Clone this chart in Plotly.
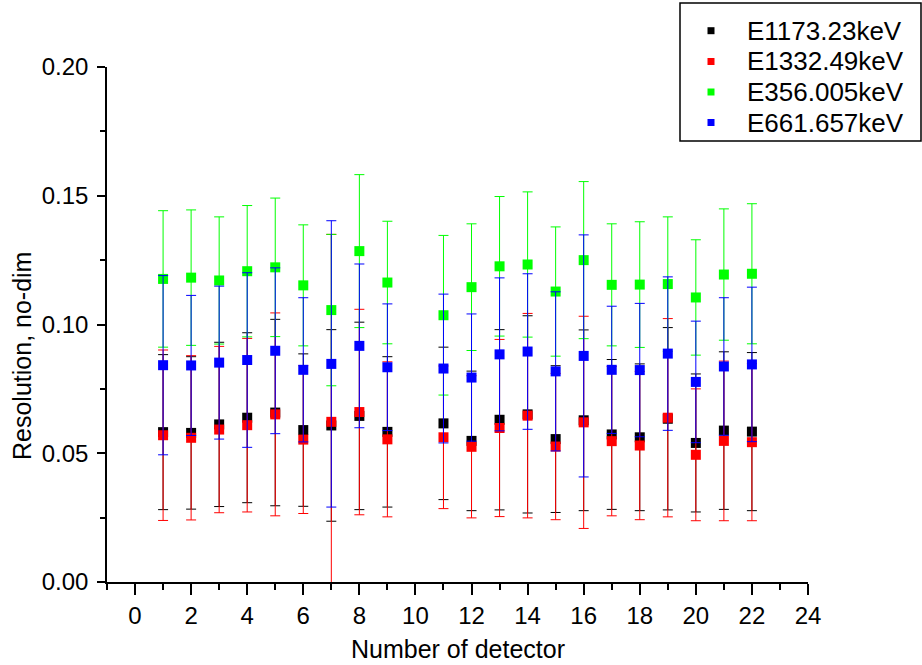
import plotly.graph_objects as go

detectors = [1, 2, 3, 4, 5, 6, 7, 8, 9, 11, 12, 13, 14, 15, 16, 17, 18, 19, 20, 21, 22]

e1173_val = [0.0582, 0.0579, 0.0612, 0.0638, 0.0658, 0.0590, 0.0608, 0.0645, 0.0583, 0.0616, 0.0548,
             0.0630, 0.0651, 0.0555, 0.0628, 0.0573, 0.0562, 0.0634, 0.0540, 0.0588, 0.0584]
e1173_err = [0.0301, 0.0296, 0.0319, 0.0330, 0.0362, 0.0296, 0.0372, 0.0364, 0.0292, 0.0296, 0.0271,
             0.0350, 0.0383, 0.0285, 0.0351, 0.0291, 0.0285, 0.0354, 0.0268, 0.0306, 0.0307]

e1332_val = [0.0570, 0.0560, 0.0592, 0.0609, 0.0651, 0.0553, 0.0622, 0.0660, 0.0554, 0.0562, 0.0525,
             0.0598, 0.0646, 0.0526, 0.0620, 0.0547, 0.0530, 0.0638, 0.0494, 0.0548, 0.0543]
e1332_err = [0.0331, 0.0319, 0.0323, 0.0337, 0.0394, 0.0287, 0.0728, 0.0399, 0.0301, 0.0277, 0.0276,
             0.0344, 0.0397, 0.0284, 0.0412, 0.0290, 0.0288, 0.0385, 0.0256, 0.0310, 0.0305]

e356_val = [0.1177, 0.1182, 0.1171, 0.1207, 0.1222, 0.1152, 0.1056, 0.1285, 0.1163, 0.1036, 0.1145,
            0.1226, 0.1233, 0.1128, 0.1250, 0.1154, 0.1155, 0.1157, 0.1105, 0.1194, 0.1197]
e356_err = [0.0265, 0.0263, 0.0247, 0.0255, 0.0269, 0.0235, 0.0294, 0.0297, 0.0238, 0.0310, 0.0246,
            0.0271, 0.0282, 0.0251, 0.0305, 0.0237, 0.0244, 0.0261, 0.0224, 0.0255, 0.0272]

e661_val = [0.0842, 0.0841, 0.0852, 0.0862, 0.0898, 0.0824, 0.0847, 0.0917, 0.0834, 0.0829, 0.0794,
            0.0884, 0.0895, 0.0818, 0.0878, 0.0824, 0.0823, 0.0887, 0.0777, 0.0837, 0.0845]
e661_err = [0.0348, 0.0272, 0.0297, 0.0339, 0.0322, 0.0280, 0.0556, 0.0318, 0.0246, 0.0289, 0.0247,
            0.0297, 0.0302, 0.0309, 0.0470, 0.0247, 0.0259, 0.0298, 0.0236, 0.0267, 0.0300]

series_names = ["E1173.23keV", "E1332.49keV", "E356.005keV", "E661.657keV"]
series_vals = [e1173_val, e1332_val, e356_val, e661_val]
series_errs = [e1173_err, e1332_err, e356_err, e661_err]
series_colors = ["#000000", "#ff0000", "#00ff00", "#0000ff"]

FONT = "Liberation Sans, Arial, sans-serif"

# figure geometry (pixels)
W, H = 922, 665
ML, MR, MT, MB = 107, 114, 67, 83
PW, PH = W - ML - MR, H - MT - MB


def px_x(px):
    return (px - ML) / PW


def px_y(py):
    return (H - MB - py) / PH


fig = go.Figure()
for name, vals, errs, col in zip(series_names, series_vals, series_errs, series_colors):
    fig.add_trace(go.Scatter(
        x=detectors, y=vals, mode="markers", name=name, showlegend=False,
        marker=dict(symbol="square", size=10, color=col, line=dict(width=0)),
        error_y=dict(type="data", array=errs, visible=True, color=col, thickness=1, width=5),
    ))

# legend drawn as a framed box with swatches and text
shapes = [dict(type="rect", xref="paper", yref="paper",
               x0=px_x(680), x1=px_x(921), y0=px_y(141), y1=px_y(3),
               line=dict(color="black", width=1.5), fillcolor="white", layer="above")]
annotations = []
row_y = [30.7, 61.5, 92, 122.5]
for i, (name, col) in enumerate(zip(series_names, series_colors)):
    cy = row_y[i]
    shapes.append(dict(type="rect", xref="paper", yref="paper",
                       x0=px_x(707.5), x1=px_x(714.5), y0=px_y(cy + 3.5), y1=px_y(cy - 3.5),
                       line=dict(width=0), fillcolor=col, layer="above"))
    annotations.append(dict(text=name, xref="paper", yref="paper",
                            x=px_x(745), y=px_y(cy), xanchor="left", yanchor="middle",
                            showarrow=False, font=dict(family=FONT, size=26, color="black")))

annotations += [
    dict(text="Number of detector", xref="paper", yref="paper",
         x=0.5, y=px_y(649), xanchor="center", yanchor="middle",
         showarrow=False, font=dict(family=FONT, size=25, color="black")),
    dict(text="Resolution, no-dim", xref="paper", yref="paper",
         x=px_x(22), y=px_y(356), xanchor="center", yanchor="middle",
         textangle=-90, showarrow=False, font=dict(family=FONT, size=25, color="black")),
]

fig.update_layout(
    width=W, height=H,
    margin=dict(l=ML, r=MR, t=MT, b=MB, autoexpand=False),
    paper_bgcolor="white", plot_bgcolor="white",
    font=dict(family=FONT, size=24, color="black"),
    showlegend=False,
    shapes=shapes,
    annotations=annotations,
    xaxis=dict(
        range=[-1, 24], tickmode="linear", tick0=0, dtick=2, automargin=False,
        ticks="outside", ticklen=11, tickwidth=1.5, tickcolor="black",
        showline=True, linecolor="black", linewidth=2,
        showgrid=False, zeroline=False,
        minor=dict(ticks="outside", ticklen=6, tickwidth=1.5, tickcolor="black", dtick=1, tick0=1, showgrid=False),
        tickfont=dict(family=FONT, size=24),
    ),
    yaxis=dict(
        range=[0, 0.2], tickmode="linear", tick0=0, dtick=0.05, tickformat=".2f", automargin=False,
        ticks="outside", ticklen=8, tickwidth=1.5, tickcolor="black",
        showline=True, linecolor="black", linewidth=1.5,
        showgrid=False, zeroline=False, ticklabelstandoff=4,
        minor=dict(ticks="outside", ticklen=5, tickwidth=1.5, tickcolor="black", dtick=0.025, showgrid=False),
        tickfont=dict(family=FONT, size=24),
    ),
)

fig.write_html(
    "out.html",
    config={"displayModeBar": False},
    post_script="document.body.style.margin='0';document.body.style.overflow='hidden';",
)
